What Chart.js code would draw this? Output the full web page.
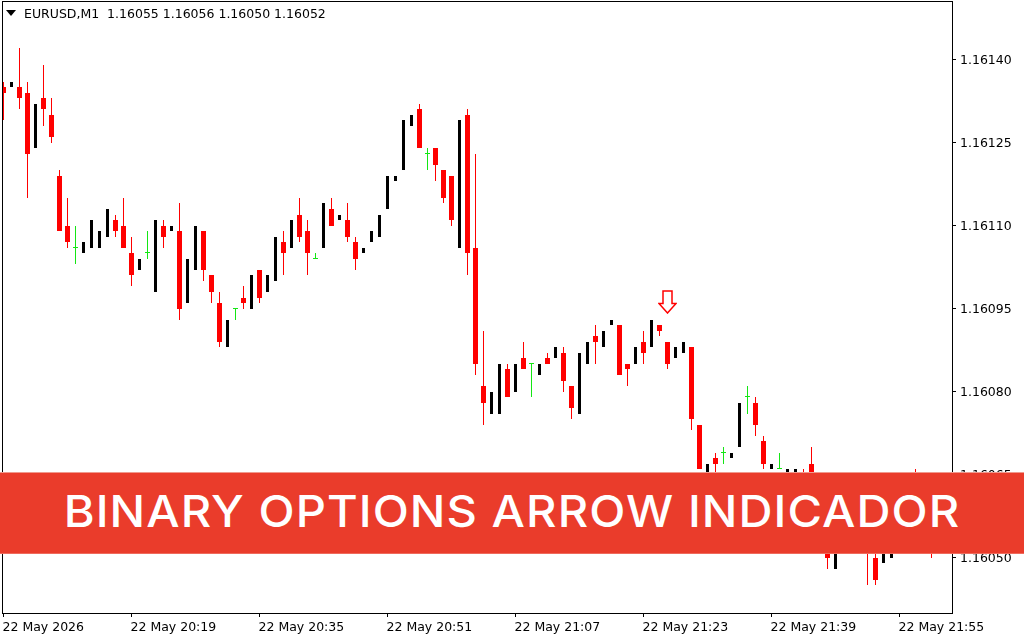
<!DOCTYPE html>
<html>
<head>
<meta charset="utf-8">
<title>EURUSD,M1</title>
<script src="https://cdn.jsdelivr.net/npm/chart.js@4"></script>
<style>
  html,body{margin:0;padding:0;background:#fff;}
  #wrap{position:relative;width:1024px;height:640px;overflow:hidden;}
  #header{position:absolute;left:24px;top:6px;font:12.5px "DejaVu Sans",sans-serif;color:#000;white-space:pre;}
  #menuArrow{position:absolute;left:6px;top:10px;width:0;height:0;border-left:5.5px solid transparent;border-right:5.5px solid transparent;border-top:6px solid #000;}
  #banner{position:absolute;left:0;top:472px;width:1024px;height:80px;background:#ea3c2b;color:#fff;
    border-top:1px solid #f09a8e;border-bottom:1px solid #ef6a5c;
    font:500 44px Inter,sans-serif;line-height:76px;text-align:center;white-space:pre;}
  #banner span{display:inline-block;letter-spacing:1px;transform:scaleX(1.07);}
</style>
</head>
<body>
<div id="wrap">
  <canvas id="chart" width="1024" height="640"></canvas>
  <div id="menuArrow"></div>
  <div id="header">EURUSD,M1  1.16055 1.16056 1.16050 1.16052</div>
  <div id="banner"><span>BINARY OPTIONS ARROW INDICADOR</span></div>
</div>
<script>
// M1 candles. The ones behind the banner are estimates.
const opens = [1.16135,1.16135,1.16135,1.16134,1.16124,1.16133,1.16130,1.16119,1.16110,1.16106,
1.16105,1.16106,1.16106,1.16108,1.16111,1.16110,1.16105,1.16102,1.16105,1.16098,
1.16110,1.16109,1.16109,1.16096,1.16102,1.16109,1.16101,1.16096,1.16088,1.16095,
1.16097,1.16095,1.16102,1.16098,1.16100,1.16107,1.16106,1.16112,1.16109,1.16104,
1.16106,1.16113,1.16111,1.16111,1.16107,1.16105,1.16107,1.16108,1.16113,1.16118,
1.16120,1.16128,1.16131,1.16123,1.16124,1.16120,1.16119,1.16106,1.16130,1.16106,
1.16081,1.16076,1.16076,1.16084,1.16080,1.16086,1.16085,1.16083,1.16086,1.16086,
1.16087,1.16081,1.16076,1.16085,1.16090,1.16088,1.16092,1.16092,1.16085,1.16085,
1.16089,1.16088,1.16092,1.16089,1.16086,1.16087,1.16088,1.16074,1.16064,1.16068,
1.16069,1.16068,1.16070,1.16079,1.16078,1.16071,1.16066,1.16066,1.16065,1.16065,
1.16064,1.16067,1.16058,1.16055,1.16048,1.16051,1.16054,1.16058,1.16054,1.16050,
1.16049,1.16050,1.16053,1.16057,1.16063,1.16059,1.16055];
const highs = [1.16136,1.16136,1.16142,1.16136,1.16132,1.16139,1.16133,1.16120,1.16115,1.16110,
1.16107,1.16111,1.16109,1.16113,1.16112,1.16115,1.16108,1.16104,1.16109,1.16111,
1.16111,1.16110,1.16114,1.16104,1.16110,1.16109,1.16101,1.16098,1.16093,1.16095,
1.16099,1.16101,1.16102,1.16101,1.16108,1.16109,1.16111,1.16115,1.16111,1.16105,
1.16114,1.16115,1.16112,1.16114,1.16108,1.16106,1.16109,1.16112,1.16119,1.16119,
1.16129,1.16130,1.16132,1.16124,1.16124,1.16120,1.16119,1.16129,1.16131,1.16123,
1.16091,1.16080,1.16085,1.16085,1.16085,1.16089,1.16085,1.16085,1.16087,1.16088,
1.16088,1.16081,1.16087,1.16089,1.16092,1.16091,1.16093,1.16092,1.16085,1.16088,
1.16091,1.16093,1.16092,1.16089,1.16088,1.16089,1.16088,1.16074,1.16067,1.16069,
1.16070,1.16069,1.16078,1.16081,1.16079,1.16072,1.16067,1.16069,1.16066,1.16066,
1.16066,1.16070,1.16059,1.16056,1.16053,1.16055,1.16058,1.16059,1.16055,1.16053,
1.16053,1.16054,1.16058,1.16062,1.16066,1.16060,1.16056];
const lows = [1.16129,1.16135,1.16131,1.16115,1.16124,1.16128,1.16125,1.16109,1.16106,1.16103,
1.16105,1.16106,1.16106,1.16108,1.16108,1.16106,1.16099,1.16102,1.16104,1.16098,
1.16106,1.16109,1.16093,1.16096,1.16102,1.16100,1.16096,1.16088,1.16088,1.16093,
1.16095,1.16095,1.16096,1.16098,1.16100,1.16101,1.16106,1.16107,1.16101,1.16104,
1.16106,1.16110,1.16111,1.16107,1.16102,1.16105,1.16107,1.16108,1.16113,1.16118,
1.16120,1.16128,1.16124,1.16120,1.16118,1.16114,1.16110,1.16106,1.16101,1.16083,
1.16074,1.16076,1.16076,1.16079,1.16080,1.16084,1.16079,1.16083,1.16085,1.16086,
1.16080,1.16075,1.16076,1.16085,1.16085,1.16088,1.16092,1.16083,1.16081,1.16085,
1.16085,1.16088,1.16090,1.16084,1.16086,1.16087,1.16073,1.16066,1.16064,1.16064,
1.16067,1.16068,1.16070,1.16076,1.16072,1.16066,1.16066,1.16066,1.16065,1.16065,
1.16059,1.16057,1.16055,1.16048,1.16048,1.16051,1.16054,1.16053,1.16045,1.16045,
1.16049,1.16050,1.16053,1.16057,1.16058,1.16055,1.16050];
const closes = [1.16134,1.16136,1.16133,1.16123,1.16132,1.16131,1.16126,1.16109,1.16107,1.16106,
1.16107,1.16111,1.16109,1.16113,1.16109,1.16106,1.16101,1.16104,1.16105,1.16111,
1.16108,1.16110,1.16095,1.16104,1.16110,1.16102,1.16098,1.16089,1.16093,1.16095,
1.16096,1.16101,1.16097,1.16101,1.16108,1.16105,1.16111,1.16108,1.16105,1.16104,
1.16114,1.16110,1.16112,1.16108,1.16104,1.16106,1.16109,1.16112,1.16119,1.16119,
1.16129,1.16130,1.16124,1.16123,1.16121,1.16115,1.16111,1.16129,1.16105,1.16085,
1.16078,1.16080,1.16085,1.16079,1.16085,1.16084,1.16085,1.16085,1.16085,1.16088,
1.16082,1.16077,1.16087,1.16089,1.16089,1.16091,1.16093,1.16083,1.16084,1.16088,
1.16087,1.16093,1.16091,1.16085,1.16088,1.16089,1.16075,1.16066,1.16067,1.16067,
1.16069,1.16069,1.16078,1.16079,1.16074,1.16067,1.16067,1.16066,1.16066,1.16066,
1.16060,1.16058,1.16056,1.16050,1.16053,1.16055,1.16058,1.16054,1.16052,1.16046,
1.16053,1.16054,1.16058,1.16062,1.16059,1.16056,1.16052];

const priceTicks = [1.16050,1.16065,1.16080,1.16095,1.16110,1.16125,1.16140];
const timeTickIndexes = [0,16,32,48,64,80,96,112];
const timeTickLabels = ['22 May 2026','22 May 20:19','22 May 20:35','22 May 20:51','22 May 21:07','22 May 21:23','22 May 21:39','22 May 21:55'];

// sell signal
const signalIndex = 83;
const signalPrice = 1.160962;

const RED = '#ff0000', GREEN = '#14e614', BLACK = '#000000';

const redWicks = [], greenWicks = [], redBodies = [], blackBodies = [], greenTicks = [];
opens.forEach((o, i) => {
  const c = closes[i];
  if (c < o) {
    redWicks.push({x: i, y: [lows[i], highs[i]]});
    redBodies.push({x: i, y: [c, o]});
  } else if (c > o) {
    blackBodies.push({x: i, y: [o, c]});
  } else {
    greenWicks.push({x: i, y: [lows[i], highs[i]]});
    greenTicks.push({x: i, y: [o, o]});
  }
});

// hollow down arrow, same as the terminal's arrow object
function makeArrow() {
  const cv = document.createElement('canvas');
  cv.width = 19; cv.height = 24;
  const g = cv.getContext('2d');
  g.beginPath();
  g.moveTo(5, 1); g.lineTo(14, 1); g.lineTo(14, 13.5); g.lineTo(18, 13.5);
  g.lineTo(9.5, 23); g.lineTo(1, 13.5); g.lineTo(5, 13.5); g.closePath();
  g.fillStyle = '#fff'; g.fill();
  g.strokeStyle = RED; g.lineWidth = 1.5; g.stroke();
  return cv;
}

// terminal draws on whole pixels, so snap the bar ends and add the frame
const terminalLook = {
  id: 'terminalLook',
  afterDatasetsUpdate(chart) {
    chart.data.datasets.forEach((ds, n) => {
      if (ds.type === 'line') return;
      chart.getDatasetMeta(n).data.forEach(bar => {
        const top = Math.round(bar.y), bottom = Math.round(bar.base);
        bar.y = top;
        bar.base = bottom === top ? top + 1 : bottom;
      });
    });
  },
  beforeDraw(chart) {
    const a = chart.chartArea, c = chart.ctx;
    c.save();
    c.fillStyle = '#000';
    c.fillRect(a.left - 1, a.top - 1, a.right - a.left + 2, 1);
    c.fillRect(a.left - 1, a.bottom, a.right - a.left + 2, 1);
    c.fillRect(a.left - 1, a.top - 1, 1, a.bottom - a.top + 2);
    c.fillRect(a.right, a.top - 1, 1, a.bottom - a.top + 2);
    c.restore();
  }
};

const bodyStyle = {grouped: false, borderWidth: 0, inflateAmount: 0, borderSkipped: false};
const fontSpec = {family: '"DejaVu Sans"', size: 12.5};

new Chart(document.getElementById('chart'), {
  type: 'bar',
  plugins: [terminalLook],
  data: {
    datasets: [
      {type: 'line', data: [{x: signalIndex, y: signalPrice}], showLine: false, pointStyle: makeArrow(), pointRadius: 10},
      {...bodyStyle, data: redBodies, backgroundColor: RED, maxBarThickness: 5},
      {...bodyStyle, data: blackBodies, backgroundColor: BLACK, maxBarThickness: 3},
      {...bodyStyle, data: greenTicks, backgroundColor: GREEN, maxBarThickness: 5, minBarLength: 1},
      {...bodyStyle, data: redWicks, backgroundColor: RED, maxBarThickness: 1},
      {...bodyStyle, data: greenWicks, backgroundColor: GREEN, maxBarThickness: 1}
    ]
  },
  options: {
    responsive: false,
    animation: false,
    devicePixelRatio: 1,
    layout: {autoPadding: false, padding: {left: 3, top: 2, right: 0, bottom: 0}},
    plugins: {legend: {display: false}, tooltip: {enabled: false}},
    events: [],
    scales: {
      x: {
        type: 'linear',
        offset: false,
        min: -0.0625,
        max: 118.5625,
        border: {display: false},
        grid: {offset: false, drawOnChartArea: false, tickLength: 4, tickColor: '#000'},
        ticks: {
          autoSkip: false, maxRotation: 0, align: 'start', color: '#000', padding: 3, labelOffset: -1, font: fontSpec,
          callback: v => timeTickLabels[timeTickIndexes.indexOf(v)]
        },
        afterBuildTicks: s => { s.ticks = timeTickIndexes.map(v => ({value: v})); },
        afterFit: s => { s.height = 27; s.paddingLeft = 0; s.paddingRight = 0; }
      },
      y: {
        position: 'right',
        min: 1.160400,
        max: 1.161504,
        border: {display: false},
        grid: {drawOnChartArea: false, tickLength: 4, tickColor: '#000'},
        ticks: {
          color: '#000', padding: 4, labelOffset: 1, font: fontSpec,
          callback: v => v.toFixed(5)
        },
        afterBuildTicks: s => { s.ticks = priceTicks.map(v => ({value: v})); },
        afterFit: s => { s.width = 72; s.paddingTop = 0; s.paddingBottom = 0; }
      }
    }
  }
});
</script>
</body>
</html>
